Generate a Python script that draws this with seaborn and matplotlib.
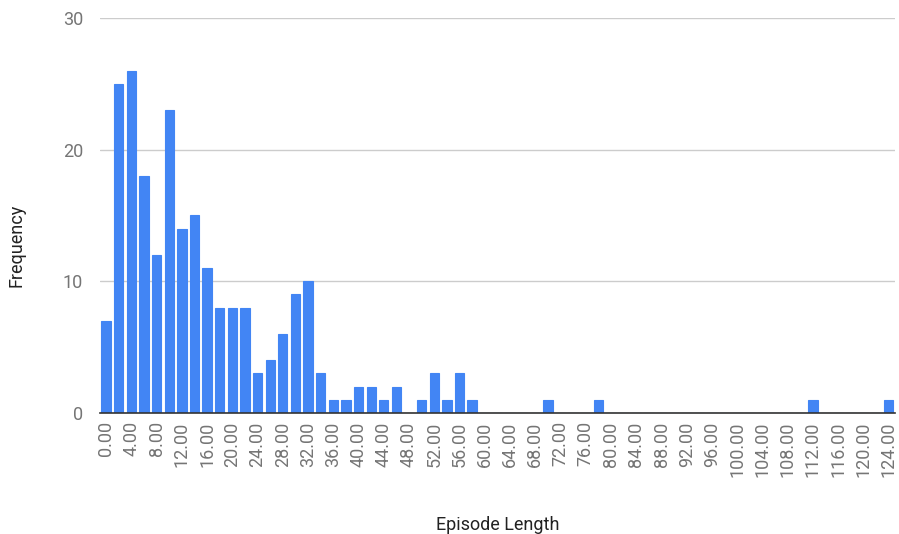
import matplotlib
matplotlib.use("Agg")
import matplotlib.pyplot as plt
import numpy as np
import pandas as pd
import seaborn as sns

# bin starts (width 2) and the counts
bin_starts = list(range(0, 126, 2))
counts = [7, 25, 26, 18, 12, 23, 14, 15, 11, 8,
          8, 8, 3, 4, 6, 9, 10, 3, 1, 1,
          2, 2, 1, 2, 0, 1, 3, 1, 3, 1,
          0, 0, 0, 0, 0, 1, 0, 0, 0, 1,
          0, 0, 0, 0, 0, 0, 0, 0, 0, 0,
          0, 0, 0, 0, 0, 0, 1, 0, 0, 0,
          0, 0, 1]
bin_labels = [f"{b:.2f}" for b in bin_starts]

df = pd.DataFrame({"bin": bin_labels, "count": counts})

sns.set_style("white")
plt.rcParams['font.family'] = ['Roboto', 'DejaVu Sans']

fig = plt.figure(figsize=(8.99, 5.34), dpi=100)
ax = fig.add_axes([0.111, 0.2266, 0.8846, 0.7397])

sns.barplot(data=df, x="bin", y="count", color="#4285F4", saturation=1,
            width=0.74, edgecolor="#4285F4", linewidth=0.8, ax=ax, zorder=3)

ax.set_ylim(0, 30)
ax.set_yticks([0, 10, 20, 30])
ax.set_xlim(-0.5, 62.5)
ax.yaxis.grid(True, color="#cccccc", linewidth=1, zorder=0)
ax.set_axisbelow(True)

# show every second bin label
ax.set_xticks(range(0, 63, 2))
ax.set_xticklabels(bin_labels[::2], rotation=90)
ax.tick_params(axis="x", length=0, pad=6, labelsize=13, labelcolor="#757575")
ax.tick_params(axis="y", length=0, pad=12, labelsize=13, labelcolor="#757575")

for s in ["top", "right", "left"]:
    ax.spines[s].set_visible(False)
ax.spines["bottom"].set_color("#333333")
ax.spines["bottom"].set_linewidth(1.2)
ax.spines["bottom"].set_zorder(4)

ax.set_xlabel("Episode Length", fontsize=13, color="#222222", labelpad=28)
ax.set_ylabel("Frequency", fontsize=13, color="#222222")
ax.yaxis.set_label_coords(-0.093, 0.425)

fig.savefig("out.png", dpi=100)
